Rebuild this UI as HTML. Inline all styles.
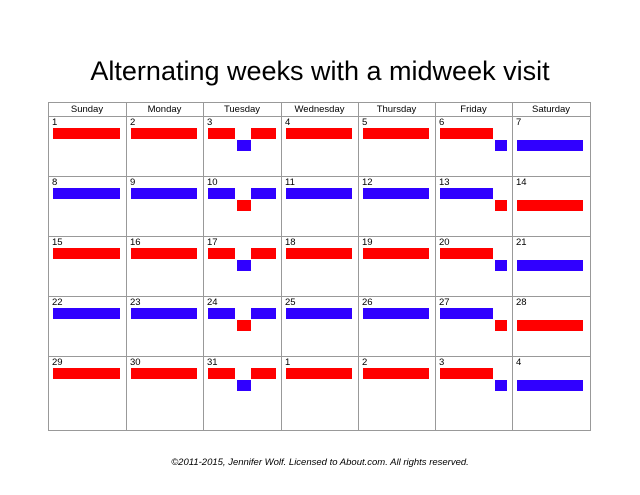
<!DOCTYPE html>
<html><head><meta charset="utf-8"><style>
body{margin:0;width:640px;height:495px;background:#fff;font-family:"Liberation Sans",sans-serif;position:relative;overflow:hidden}
#title{position:absolute;left:0;width:640px;top:56px;text-align:center;font-size:27px;color:#000}
#footer{position:absolute;left:0;width:640px;top:457px;text-align:center;font-size:9.5px;font-style:italic}
.ln{position:absolute;background:#999}
.hd{position:absolute;font-size:9.5px;text-align:center;top:104px}
.num{position:absolute;font-size:9.5px}
.bar{position:absolute;height:11px}
.r{background:#ff0000}.b{background:#3000ff}
</style></head><body>
<div id="title">Alternating weeks with a midweek visit</div>
<div id="cal"></div>
<div id="footer">©2011-2015, Jennifer Wolf. Licensed to About.com. All rights reserved.</div>
<script>
const days=["Sunday","Monday","Tuesday","Wednesday","Thursday","Friday","Saturday"];
const dates=[[1,2,3,4,5,6,7],[8,9,10,11,12,13,14],[15,16,17,18,19,20,21],[22,23,24,25,26,27,28],[29,30,31,1,2,3,4]];
const weekParent=["r","b","r","b","r"];
const colX=[48,126,203,281,358,435,512,590];
const rowY=[116,176,236,296,356,430];
const cal=document.getElementById('cal');
function add(cls,x,y,w,h,name,txt){const d=document.createElement('div');d.className=cls;d.style.left=x+'px';d.style.top=y+'px';if(w!=null)d.style.width=w+'px';if(h!=null)d.style.height=h+'px';if(txt!=null)d.textContent=txt;


cal.appendChild(d);return d;}
colX.forEach((x,i)=>add('ln',x,102,1,329,'grid-vline'));
add('ln',48,102,543,1,'grid-hline');
rowY.forEach(y=>add('ln',48,y,543,1,'grid-hline'));
days.forEach((d,i)=>add('hd',colX[i],null,colX[i+1]-colX[i],null,'day-header',d).style.top='104px');
dates.forEach((wk,r)=>{
 const p=weekParent[r],o=p==='r'?'b':'r';
 wk.forEach((n,c)=>{
  const x=colX[c],w=colX[c+1]-x,y=rowY[r];
  add('num',x+4,y+1,null,null,'date-number',String(n));
  const top=y+12,low=y+24;
  if(c===2){
   add('bar '+p,x+5,top,27,11,'parent-bar');
   add('bar '+o,x+34,low,14,11,'midweek-visit-bar');
   add('bar '+p,x+48,top,25,11,'parent-bar');
  }else if(c===5){
   add('bar '+p,x+5,top,53,11,'parent-bar');
   add('bar '+o,x+60,low,12,11,'handoff-bar');
  }else if(c===6){
   add('bar '+o,x+5,low,w-12,11,'weekend-bar');
  }else{
   add('bar '+p,x+5,top,w-11,11,'parent-bar');
  }
 });
});
</script>
</body></html>
